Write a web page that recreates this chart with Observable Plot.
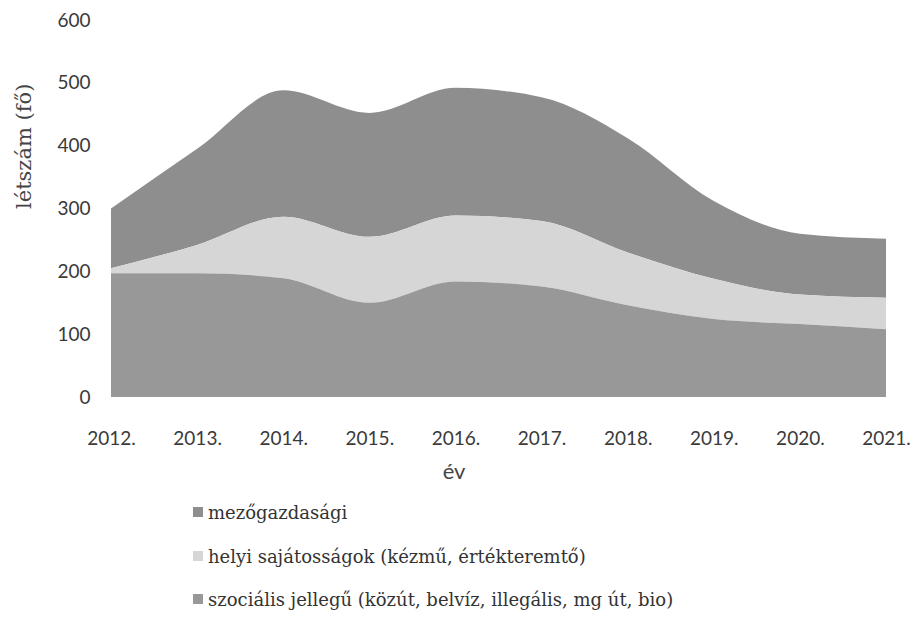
<!DOCTYPE html>
<html>
<head>
<meta charset="utf-8">
<script src="https://cdn.jsdelivr.net/npm/d3@7"></script>
<script src="https://cdn.jsdelivr.net/npm/@observablehq/plot@0.6"></script>
<style>
  html, body { margin: 0; padding: 0; background: #fff; }
  #chart svg { display: block; }
  #legend { margin: 0; padding: 0; font-family: "DejaVu Serif", "Liberation Serif", serif; font-size: 18px; color: #333; }
  #legend .row { height: 43.5px; line-height: 43.5px; padding-left: 193px; white-space: nowrap; }
  #legend .sw { display: inline-block; width: 10px; height: 10px; margin-right: 5px; vertical-align: middle; position: relative; top: -2px; }
</style>
</head>
<body>
<div id="chart"></div>
<div id="legend"></div>
<script>
// ---- data ----
const years = [2012, 2013, 2014, 2015, 2016, 2017, 2018, 2019, 2020, 2021];
const szocialis = [197, 197, 189, 150, 184, 176, 146, 124, 116, 108];
const helyi     = [8, 45, 98, 105, 105, 104, 84, 64, 47, 50];
const mezo      = [95, 153, 201, 197, 203, 197, 182, 124, 97, 94];
const seriesNames = [
  "mezőgazdasági",
  "helyi sajátosságok (kézmű, értékteremtő)",
  "szociális jellegű (közút, belvíz, illegális, mg út, bio)"
];
const seriesColors = ["#8e8e8e", "#d6d6d6", "#989898"];
const yTicks = [0, 100, 200, 300, 400, 500, 600];
const yLabel = "létszám (fő)";
const xLabel = "év";

// build long table (stack order bottom -> top: szociális, helyi, mezőgazdasági)
const valuesBySeries = [mezo, helyi, szocialis];
const data = [];
seriesNames.forEach((s, i) => {
  years.forEach((y, j) => data.push({year: y, series: s, value: valuesBySeries[i][j]}));
});
const stackOrder = [seriesNames[2], seriesNames[1], seriesNames[0]];

const chart = Plot.plot({
  width: 919,
  height: 490,
  marginLeft: 111,
  marginRight: 33,
  marginTop: 20,
  marginBottom: 93,
  style: {fontFamily: "Lato, sans-serif", fontSize: "19px", color: "#3a3a3a"},
  x: {domain: [years[0], years[years.length - 1]]},
  y: {domain: [0, 600]},
  color: {domain: seriesNames, range: seriesColors},
  marks: [
    Plot.areaY(data, {
      x: "year", y: "value", fill: "series", z: "series",
      order: stackOrder, curve: "monotone-x"
    }),
    Plot.axisX({ticks: years, tickFormat: d => d + ".", tickSize: 0, tickPadding: 34, label: null, fontSize: 19}),
    Plot.axisY({ticks: yTicks, tickSize: 0, tickPadding: 21, label: null, fontSize: 19}),
    Plot.text([yLabel], {
      frameAnchor: "left", dx: -87, rotate: -90,
      fontFamily: "DejaVu Serif, Liberation Serif, serif", fontSize: 21, fill: "#444"
    }),
    Plot.text([xLabel], {
      frameAnchor: "bottom", dx: -45, dy: 81,
      fontFamily: "Lato, sans-serif", fontSize: 22, fill: "#444"
    })
  ]
});
document.getElementById("chart").appendChild(chart);

// legend
const legend = document.getElementById("legend");
legend.style.paddingTop = "1px";
seriesNames.forEach((s, i) => {
  const row = document.createElement("div");
  row.className = "row";
  const sw = document.createElement("span");
  sw.className = "sw";
  sw.style.background = seriesColors[i];
  row.appendChild(sw);
  row.appendChild(document.createTextNode(s));
  legend.appendChild(row);
});
</script>
</body>
</html>
